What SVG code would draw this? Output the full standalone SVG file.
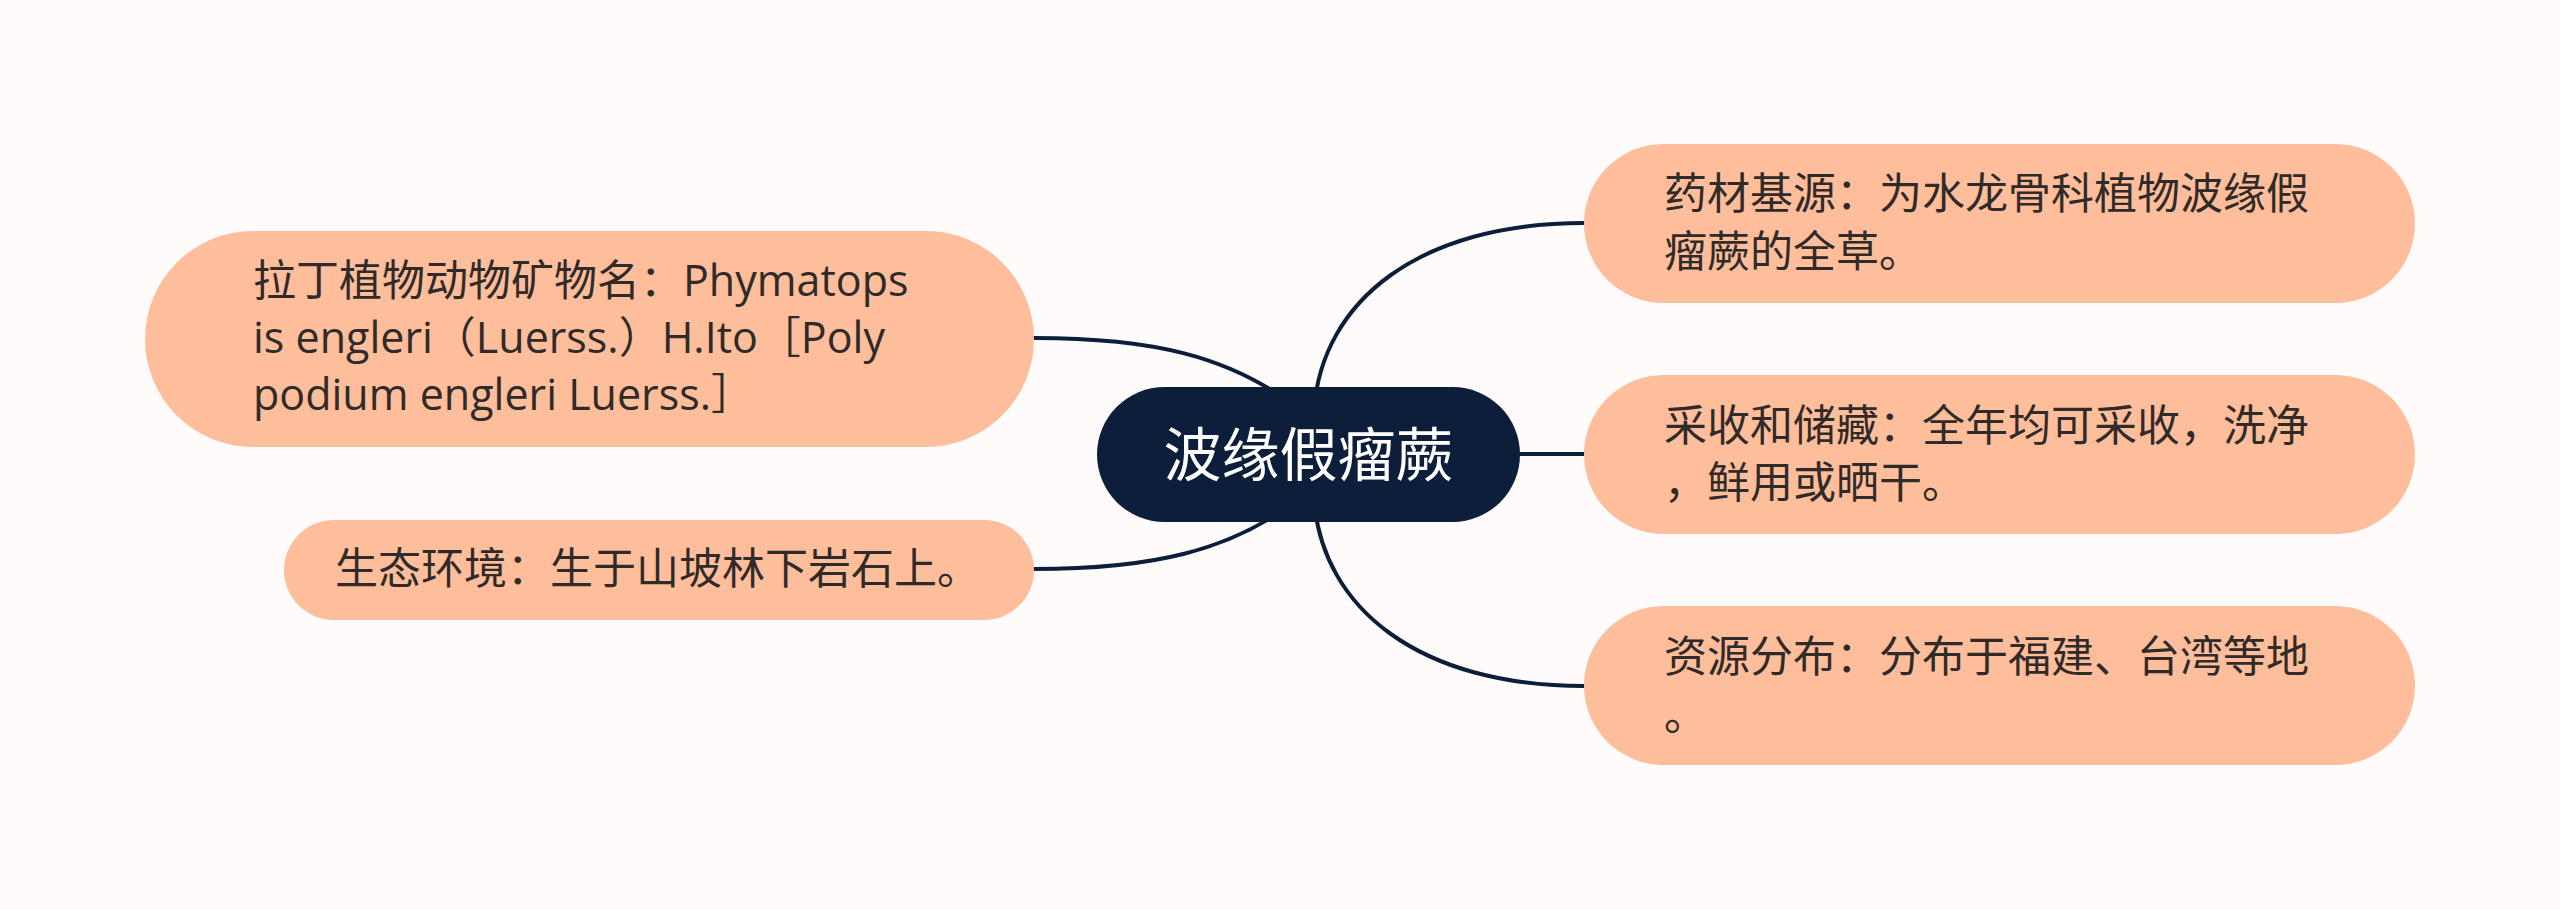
<svg xmlns="http://www.w3.org/2000/svg" width="2560" height="909" viewBox="0 0 2560 909">
<style>
.bg{fill:#FFFBFA}
.leaf{fill:#FEBE9C}
.root{fill:#0C1E3A}
.t{font-family:'Open Sans','Noto Sans CJK SC',sans-serif;font-size:43px;fill:#302B28}
.rt{font-family:'Noto Sans CJK SC',sans-serif;font-size:58px;fill:#FFFFFF}
.c{fill:none;stroke:#0C1E3A;stroke-width:4;stroke-linecap:round}
</style>
<rect class="bg" x="0" y="0" width="2560" height="909"/>
<g id="connectors">
<path class="c" d="M1034,338 C1150,338 1230,355 1300,410"/>
<path class="c" d="M1034,569 C1150,569 1230,552 1300,498"/>
<path class="c" d="M1584,223 C1420,223 1322,300 1314,410"/>
<path class="c" d="M1500,454 L1584,454"/>
<path class="c" d="M1584,686 C1420,686 1322,609 1314,499"/>
</g>
<g id="root">
<rect class="root" x="1097" y="387" width="423" height="135" rx="67.5"/>
<text class="rt" x="1308.5" y="476" text-anchor="middle">波缘假瘤蕨</text>
</g>
<g id="node-latin">
<rect class="leaf" x="145" y="231" width="889" height="216" rx="108"/>
<text class="t"><tspan x="253" y="296">拉丁植物动物矿物名：Phymatops</tspan><tspan x="253" y="353">is engleri（Luerss.）H.Ito［Poly</tspan><tspan x="253" y="410">podium engleri Luerss.］</tspan></text>
</g>
<g id="node-ecology">
<rect class="leaf" x="284" y="520" width="750" height="100" rx="50"/>
<text class="t" x="335" y="584">生态环境：生于山坡林下岩石上。</text>
</g>
<g id="node-source">
<rect class="leaf" x="1584" y="144" width="831" height="159" rx="79.5"/>
<text class="t"><tspan x="1664" y="209">药材基源：为水龙骨科植物波缘假</tspan><tspan x="1664" y="267">瘤蕨的全草。</tspan></text>
</g>
<g id="node-harvest">
<rect class="leaf" x="1584" y="375" width="831" height="159" rx="79.5"/>
<text class="t"><tspan x="1664" y="441">采收和储藏：全年均可采收，洗净</tspan><tspan x="1664" y="498">，鲜用或晒干。</tspan></text>
</g>
<g id="node-distribution">
<rect class="leaf" x="1584" y="606" width="831" height="159" rx="79.5"/>
<text class="t"><tspan x="1664" y="672">资源分布：分布于福建、台湾等地</tspan><tspan x="1664" y="730">。</tspan></text>
</g>
</svg>
